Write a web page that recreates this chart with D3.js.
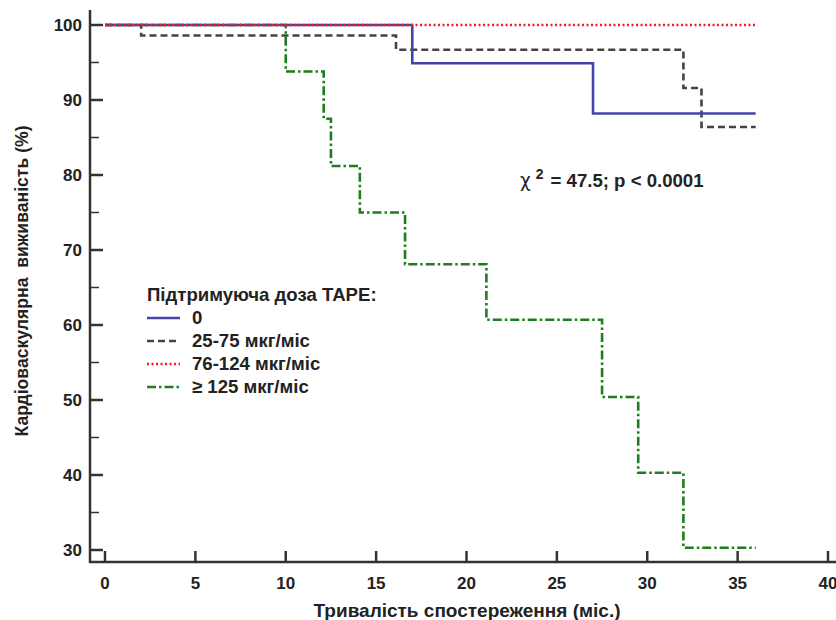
<!DOCTYPE html>
<meta charset="utf-8">
<style>
    body {
        margin: 0;
        background-color: #fff;
    }

    svg {
        display: block;
    }

    text {
        font-family: "Liberation Sans", Arial, sans-serif;
        font-weight: bold;
        fill: #222;
    }

    .curve {
        fill: none;
        stroke-width: 2.6px;
    }
</style>
<svg width="836" height="620"></svg>
<script src="https://d3js.org/d3.v7.min.js"></script>
<script>
    // series: step times (months) and survival (%)
    var timesNone = [0, 17, 27, 36];
    var survNone = [100, 94.9, 88.2, 88.2];

    var timesLow = [0, 2, 16.1, 32, 33, 36];
    var survLow = [100, 98.6, 96.7, 91.6, 86.4, 86.4];

    var timesMid = [0, 36];
    var survMid = [100, 100];

    var timesHigh = [0, 10, 12.1, 12.5, 14.1, 16.6, 21.1, 27.5, 29.5, 32, 36];
    var survHigh = [100, 93.8, 87.5, 81.2, 75, 68.1, 60.7, 50.4, 40.3, 30.3, 30.3];

    var legendLabels = ["0", "25-75 мкг/міс", "76-124 мкг/міс", "\u2265 125 мкг/міс"];
    var xTicks = [0, 5, 10, 15, 20, 25, 30, 35, 40];
    var yTicks = [30, 40, 50, 60, 70, 80, 90, 100];
    var yMinorTicks = [35, 45, 55, 65, 75, 85, 95];

    var svg = d3.select("svg");

    var x = d3.scaleLinear().domain([0, 40]).range([105, 828]);
    var y = d3.scaleLinear().domain([30, 100]).range([550, 25]);

    var series = [
        { t: timesNone, s: survNone, color: "#4343a8", dash: null },
        { t: timesLow, s: survLow, color: "#444", dash: "7,4" },
        { t: timesMid, s: survMid, color: "#ff1a1a", dash: "2,2.5" },
        { t: timesHigh, s: survHigh, color: "#1e7d1e", dash: "9,3,2.5,3" }
    ];

    // axes lines
    svg.append("line")
        .attr("x1", 90).attr("x2", 90)
        .attr("y1", 10).attr("y2", 563)
        .attr("stroke", "#333").attr("stroke-width", 2.5);
    svg.append("line")
        .attr("x1", 89).attr("x2", 836)
        .attr("y1", 562).attr("y2", 562)
        .attr("stroke", "#333").attr("stroke-width", 2.5);

    // y ticks
    svg.selectAll(".ytick")
        .data(yTicks)
        .enter().append("line")
        .attr("x1", 90).attr("x2", 103)
        .attr("y1", function(d) { return y(d); })
        .attr("y2", function(d) { return y(d); })
        .attr("stroke", "#333").attr("stroke-width", 2.5);

    svg.selectAll(".yminor")
        .data(yMinorTicks)
        .enter().append("line")
        .attr("x1", 90).attr("x2", 99)
        .attr("y1", function(d) { return y(d); })
        .attr("y2", function(d) { return y(d); })
        .attr("stroke", "#333").attr("stroke-width", 1.5);

    svg.selectAll(".ylabel")
        .data(yTicks)
        .enter().append("text")
        .attr("x", 82)
        .attr("y", function(d) { return y(d) + 6; })
        .attr("text-anchor", "end")
        .style("font-size", "17px")
        .text(function(d) { return d; });

    // x ticks
    svg.selectAll(".xtick")
        .data(xTicks)
        .enter().append("line")
        .attr("x1", function(d) { return x(d); })
        .attr("x2", function(d) { return x(d); })
        .attr("y1", 562).attr("y2", 551)
        .attr("stroke", "#333").attr("stroke-width", 2.5);

    svg.selectAll(".xlabel")
        .data(xTicks)
        .enter().append("text")
        .attr("x", function(d) { return x(d); })
        .attr("y", 589)
        .attr("text-anchor", "middle")
        .style("font-size", "17px")
        .text(function(d) { return d; });

    // axis titles
    svg.append("text")
        .attr("x", 467)
        .attr("y", 617)
        .attr("text-anchor", "middle")
        .style("font-size", "19px")
        .text("Тривалість спостереження (міс.)");

    svg.append("text")
        .attr("transform", "translate(28,281) rotate(-90)")
        .attr("text-anchor", "middle")
        .style("font-size", "17.6px")
        .attr("xml:space", "preserve")
        .text("Кардіоваскулярна  виживаність (%)");

    // curves
    var line = d3.line()
        .x(function(d) { return x(d[0]); })
        .y(function(d) { return y(d[1]); })
        .curve(d3.curveStepAfter);

    // draw in order so red dotted sits on top of the 100% lines
    [3, 1, 0, 2].forEach(function(i) {
        var sr = series[i];
        svg.append("path")
            .attr("class", "curve")
            .attr("d", line(d3.zip(sr.t, sr.s)))
            .attr("stroke", sr.color)
            .attr("stroke-dasharray", sr.dash);
    });

    // legend
    svg.append("text")
        .attr("x", 147)
        .attr("y", 301)
        .style("font-size", "18.6px")
        .text("Підтримуюча доза ТАРЕ:");

    var legend = svg.selectAll(".legend")
        .data(series)
        .enter().append("g")
        .attr("transform", function(d, i) {
            return "translate(147," + (318 + i * 23) + ")";
        });

    legend.append("line")
        .attr("x1", 0).attr("x2", 33)
        .attr("stroke", function(d) { return d.color; })
        .attr("stroke-width", 2.6)
        .attr("stroke-dasharray", function(d) { return d.dash; });

    legend.append("text")
        .attr("x", 45)
        .attr("y", 6)
        .style("font-size", "18.6px")
        .text(function(d, i) { return legendLabels[i]; });

    // test statistic
    var stat = svg.append("text")
        .attr("x", 520)
        .attr("y", 187)
        .style("font-size", "18.6px");
    stat.append("tspan").style("font-family", "DejaVu Sans").style("font-weight", "normal").text("χ");
    stat.append("tspan").attr("dy", -8).attr("dx", 5).style("font-size", "14px").text("2");
    stat.append("tspan").attr("dy", 8).attr("dx", 7).text("= 47.5; p < 0.0001");
</script>
